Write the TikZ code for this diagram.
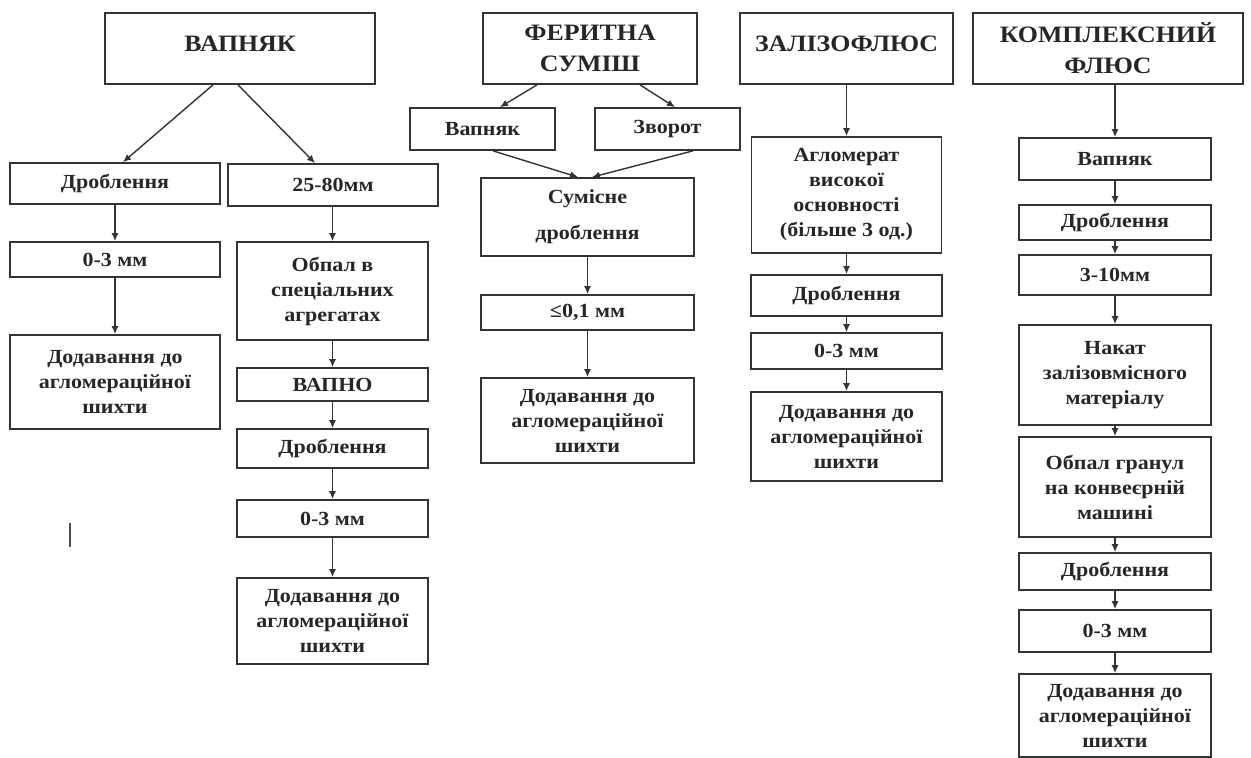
\documentclass[tikz,border=0pt]{standalone}
\usepackage{fontspec}
\setmainfont[FakeStretch=1.1]{Liberation Serif}
\usetikzlibrary{arrows.meta,calc}

\begin{document}
\begin{tikzpicture}[x=1pt,y=-1pt]

	\tikzstyle{box}=[draw=black!80,line width=1.7pt,align=center,inner sep=2pt,text=black!85,font=\bfseries\fontsize{20}{25}\selectfont]
	\tikzstyle{head}=[box,font=\bfseries\fontsize{23.5}{31}\selectfont]
	\tikzstyle{high}=[text height=16pt,text depth=10pt]
	\tikzstyle{myarrow}=[line width=1.4pt,black!80,-{Latex[length=8pt,width=7pt]}]

	\useasboundingbox (0,0) rectangle (1251,758);

	% ВАПНЯК
	\node[head,high,minimum width=270,minimum height=71] (vap) at (240,48.5) {ВАПНЯК};
	\node[box,minimum width=210,minimum height=41] (dr1) at (115,183.5) {Дроблення};
	\node[box,minimum width=210,minimum height=35] (mm1) at (115,259.5) {0-3 мм};
	\node[box,minimum width=210,minimum height=94] (add1) at (115,382) {Додавання до\\агломераційної\\шихти};
	\node[box,minimum width=210,minimum height=42] (fr1) at (333,185) {25-80мм};
	\node[box,minimum width=191,minimum height=98] (obp) at (332.5,291) {Обпал в\\спеціальних\\агрегатах};
	\node[box,minimum width=191,minimum height=33] (vapno) at (332.5,384.5) {ВАПНО};
	\node[box,minimum width=191,minimum height=39] (dr2) at (332.5,448.5) {Дроблення};
	\node[box,minimum width=191,minimum height=37] (mm2) at (332.5,518.5) {0-3 мм};
	\node[box,minimum width=191,minimum height=86] (add2) at (332.5,621) {Додавання до\\агломераційної\\шихти};

	\draw[myarrow] ($(vap.south)+(-27,0)$) -- ($(dr1.north)+(8,0)$);
	\draw[myarrow] ($(vap.south)+(-2,0)$) -- ($(fr1.north)+(-18,0)$);
	\draw[myarrow] (dr1) -- (mm1);
	\draw[myarrow] (mm1) -- (add1);
	\draw[myarrow] (obp.north |- fr1.south) -- (obp);
	\foreach \a/\b in {obp/vapno,vapno/dr2,dr2/mm2,mm2/add2}
		\draw[myarrow] (\a) -- (\b);

	\draw[line width=1.3pt,black!70] (70,523) -- (70,547);

	% ФЕРИТНА СУМІШ
	\node[head,minimum width=214,minimum height=71] (fer) at (590,48.5) {ФЕРИТНА\\СУМІШ};
	\node[box,minimum width=145,minimum height=42] (vap2) at (482.5,129) {Вапняк};
	\node[box,minimum width=145,minimum height=42] (zv) at (667.5,129) {Зворот};
	\node[box,minimum width=213,minimum height=78] (sum) at (587.5,217) {Сумісне\\[11pt]дроблення};
	\node[box,minimum width=213,minimum height=35] (le) at (587.5,312.5) {≤0,1 мм};
	\node[box,minimum width=213,minimum height=85] (add3) at (587.5,420.5) {Додавання до\\агломераційної\\шихти};

	\draw[myarrow] ($(fer.south)+(-53,0)$) -- ($(vap2.north)+(17.5,0)$);
	\draw[myarrow] ($(fer.south)+(50,0)$) -- ($(zv.north)+(7.5,0)$);
	\draw[myarrow] ($(vap2.south)+(10.5,0)$) -- ($(sum.north)+(-9.5,0)$);
	\draw[myarrow] ($(zv.south)+(25.5,0)$) -- ($(sum.north)+(4.5,0)$);
	\draw[myarrow] (sum) -- (le);
	\draw[myarrow] (le) -- (add3);

	% ЗАЛІЗОФЛЮС
	\node[head,high,minimum width=213,minimum height=71] (zal) at (846.5,48.5) {ЗАЛІЗОФЛЮС};
	\node[box,minimum width=190,minimum height=116] (agl) at (846.5,195) {Агломерат\\високої\\основності\\(більше 3 од.)};
	\node[box,minimum width=191,minimum height=41] (dr3) at (846.5,295.5) {Дроблення};
	\node[box,minimum width=191,minimum height=36] (mm3) at (846.5,351) {0-3 мм};
	\node[box,minimum width=191,minimum height=89] (add4) at (846.5,436.5) {Додавання до\\агломераційної\\шихти};

	\foreach \a/\b in {zal/agl,agl/dr3,dr3/mm3,mm3/add4}
		\draw[myarrow] (\a) -- (\b);

	% КОМПЛЕКСНИЙ ФЛЮС
	\node[head,minimum width=270,minimum height=71] (kom) at (1108,48.5) {КОМПЛЕКСНИЙ\\ФЛЮС};
	\node[box,minimum width=192,minimum height=42] (vap3) at (1115,159) {Вапняк};
	\node[box,minimum width=192,minimum height=35] (dr4) at (1115,222.5) {Дроблення};
	\node[box,minimum width=192,minimum height=40] (mm4) at (1115,275) {3-10мм};
	\node[box,minimum width=192,minimum height=100] (nak) at (1115,375) {Накат\\залізовмісного\\матеріалу};
	\node[box,minimum width=192,minimum height=100] (obg) at (1115,487) {Обпал гранул\\на конвеєрній\\машині};
	\node[box,minimum width=192,minimum height=37] (dr5) at (1115,571.5) {Дроблення};
	\node[box,minimum width=192,minimum height=42] (mm5) at (1115,631) {0-3 мм};
	\node[box,minimum width=192,minimum height=83] (add5) at (1115,715.5) {Додавання до\\агломераційної\\шихти};

	\draw[myarrow] (vap3.north |- kom.south) -- (vap3);
	\foreach \a/\b in {vap3/dr4,dr4/mm4,mm4/nak,nak/obg,obg/dr5,dr5/mm5,mm5/add5}
		\draw[myarrow] (\a) -- (\b);
\end{tikzpicture}
\end{document}
